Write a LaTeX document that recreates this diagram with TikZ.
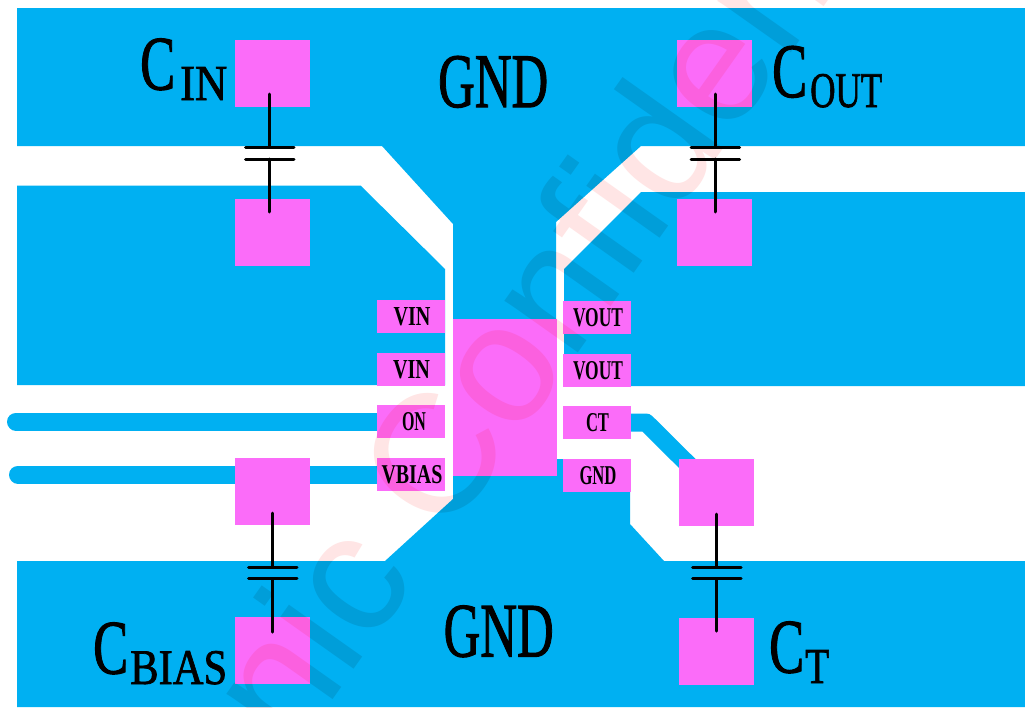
\documentclass[tikz,border=0pt]{standalone}
\usepackage{fontspec}
\usepackage{graphicx}
\usetikzlibrary{backgrounds}
\setmainfont{Liberation Serif}
\newfontfamily\wmfont{Liberation Sans}
\newfontfamily\semifont[FakeBold=1.5]{Liberation Serif}
\definecolor{plane}{HTML}{00B0F2}
\definecolor{padc}{HTML}{FB6CF9}
\definecolor{wm}{HTML}{FFE5E5}
\newcommand{\fitbox}[3]{\resizebox{#1pt}{#2pt}{\semifont #3}}
\newcommand{\fitlab}[3]{\resizebox{#1pt}{#2pt}{\bfseries #3}}
\tikzset{
  copper/.style={fill=plane,draw=none},
  bigpad/.style={fill=padc,draw=none,inner sep=0pt,minimum width=75pt,minimum height=67pt},
  smallpad/.style={fill=padc,draw=none,inner sep=0pt,minimum width=68pt,minimum height=33pt},
  chip/.style={fill=padc,draw=none,inner sep=0pt,minimum width=104pt,minimum height=157pt},
  bigtext/.style={inner sep=0pt,anchor=base west,text=black},
  wire/.style={draw=black,line width=3pt,line cap=round},
  trace/.style={draw=plane,line width=18pt,line cap=round,line join=round},
  wmtext/.style={inner sep=0pt,anchor=base west,rotate=54.7,text=wm,font=\wmfont\fontsize{170pt}{170pt}\selectfont}
}
\begin{document}
\begin{tikzpicture}[x=1pt,y=-1pt]
\useasboundingbox (0,0) rectangle (1025,707);
% pads
\node[chip] (U) at (505,397.5) {};
\node[smallpad] (vina) at (411,316.5) {\hspace*{2pt}\fitlab{37}{18}{VIN}};
\node[smallpad] (vinb) at (411,369.5) {\hspace*{1pt}\fitlab{37}{18}{VIN}};
\node[smallpad] (on) at (411,421.5) {\hspace*{6pt}\fitlab{24}{18}{ON}};
\node[smallpad] (vbias) at (411,474.5) {\hspace*{2pt}\fitlab{61}{18}{VBIAS}};
\node[smallpad] (vouta) at (597,317.5) {\hspace*{2pt}\fitlab{50}{18}{VOUT}};
\node[smallpad] (voutb) at (597,370.5) {\hspace*{2pt}\fitlab{50}{18}{VOUT}};
\node[smallpad] (ct) at (597,422.5) {\hspace*{1pt}\fitlab{23}{18}{CT}};
\node[smallpad] (gnd) at (597,475.5) {\hspace*{2pt}\fitlab{37}{18}{GND}};
\node[bigpad] (cina) at (272.5,73.5) {};
\node[bigpad] (cinb) at (272.5,232.5) {};
\node[bigpad] (couta) at (714.5,73.5) {};
\node[bigpad] (coutb) at (714.5,232.5) {};
\node[bigpad] (cbiasa) at (272.5,491.5) {};
\node[bigpad] (cbiasb) at (272.5,650.5) {};
\node[bigpad] (cta) at (716.5,492.5) {};
\node[bigpad] (ctb) at (716.5,651.5) {};
% copper and traces under the pads
\coordinate (onend) at (16,421.5);
\coordinate (biasend) at (18,474.5);
\coordinate (ctknee) at (646,422.5);
\begin{scope}[on background layer]
\fill[white] (0,0) rectangle (1025,707);
\fill[copper] (17,8) -- (1025,8) -- (1025,146) -- (641,146) -- (556,222) -- (556,459) -- (630,459) -- (630,524) -- (664,561) -- (1025,561) -- (1025,707) -- (17,707) -- (17,561) -- (385,561) -- (453,499) -- (453,224) -- (382,146) -- (17,146) -- cycle;
\fill[copper] (17,185.5) -- (360.5,185.5) -- (445,269) -- (445,385) -- (17,385) -- cycle;
\fill[copper] (641,192) -- (1025,192) -- (1025,386) -- (564,386) -- (564,269) -- cycle;
\draw[trace] (on.center) -- (onend);
\draw[trace] (vbias.center) -- (biasend);
\draw[trace,line cap=butt] (ct.center) -- (ctknee) -- (cta.center);
\end{scope}
% capacitors
\coordinate (c1a) at (269.5,94); \coordinate (c1b) at (269.5,147);
\coordinate (c1c) at (269.5,159); \coordinate (c1d) at (269.5,212);
\coordinate (c1e) at (245.5,147); \coordinate (c1f) at (294,147);
\coordinate (c1g) at (245.5,159); \coordinate (c1h) at (294,159);
\draw[wire] (c1a) -- (c1b); \draw[wire] (c1c) -- (c1d);
\draw[wire] (c1e) -- (c1f); \draw[wire] (c1g) -- (c1h);
\coordinate (c2a) at (715,94); \coordinate (c2b) at (715,147);
\coordinate (c2c) at (715,159); \coordinate (c2d) at (715,212);
\coordinate (c2e) at (691,147); \coordinate (c2f) at (739.5,147);
\coordinate (c2g) at (691,159); \coordinate (c2h) at (739.5,159);
\draw[wire] (c2a) -- (c2b); \draw[wire] (c2c) -- (c2d);
\draw[wire] (c2e) -- (c2f); \draw[wire] (c2g) -- (c2h);
\coordinate (c3a) at (272.5,513); \coordinate (c3b) at (272.5,567);
\coordinate (c3c) at (272.5,578.5); \coordinate (c3d) at (272.5,632);
\coordinate (c3e) at (248.5,567); \coordinate (c3f) at (297,567);
\coordinate (c3g) at (248.5,578.5); \coordinate (c3h) at (297,578.5);
\draw[wire] (c3a) -- (c3b); \draw[wire] (c3c) -- (c3d);
\draw[wire] (c3e) -- (c3f); \draw[wire] (c3g) -- (c3h);
\coordinate (c4a) at (716.5,514); \coordinate (c4b) at (716.5,567);
\coordinate (c4c) at (716.5,578.5); \coordinate (c4d) at (716.5,631);
\coordinate (c4e) at (692.5,567); \coordinate (c4f) at (741,567);
\coordinate (c4g) at (692.5,578.5); \coordinate (c4h) at (741,578.5);
\draw[wire] (c4a) -- (c4b); \draw[wire] (c4c) -- (c4d);
\draw[wire] (c4e) -- (c4f); \draw[wire] (c4g) -- (c4h);
% big labels
\node[bigtext] (lcin) at (140,89.5) {\fitbox{35}{51}{C}\hspace{5pt}\raisebox{-10.5pt}{\fitbox{47}{33}{IN}}};
\node[bigtext] (lcout) at (772,97) {\fitbox{35}{51}{C}\hspace{3pt}\raisebox{-10pt}{\fitbox{72}{33}{OUT}}};
\node[bigtext] (lcbias) at (93,673.5) {\fitbox{35}{51}{C}\hspace{2pt}\raisebox{-10.5pt}{\fitbox{97}{33}{BIAS}}};
\node[bigtext] (lct) at (769,672.5) {\fitbox{35}{51}{C}\hspace{1pt}\raisebox{-10.5pt}{\fitbox{24}{33}{T}}};
\node[bigtext] (gtop) at (438,107) {\fitbox{110}{51}{GND}};
\node[bigtext] (gbot) at (443.5,656.5) {\fitbox{110}{51}{GND}};
% watermark
\begin{scope}[blend mode=multiply]
\clip (0,0) rectangle (1025,707);
\node[wmtext] (mark) at (205.6,879.4) {ronic Confidential};
\end{scope}
\end{tikzpicture}
\end{document}
